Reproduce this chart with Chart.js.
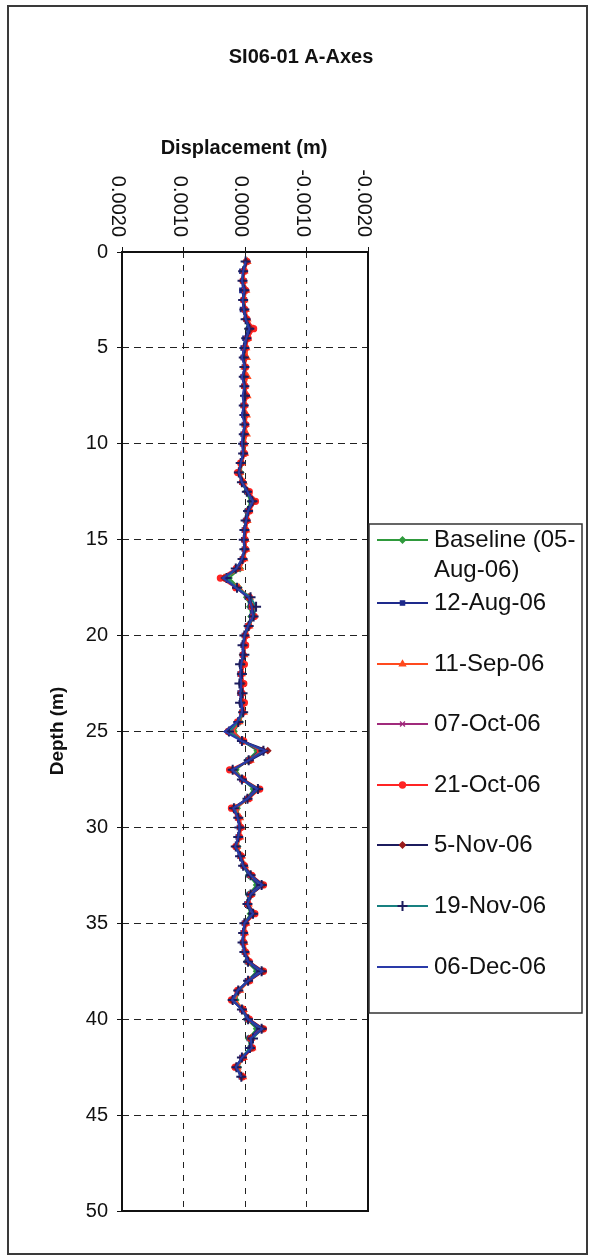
<!DOCTYPE html>
<html><head><meta charset="utf-8">
<script src="https://cdn.jsdelivr.net/npm/chart.js@4.4.1/dist/chart.umd.min.js"></script>
<style>html,body{margin:0;padding:0;background:#fff}canvas{display:block}</style>
</head><body>
<canvas id="c" width="595" height="1258" style="width:595px;height:1258px"></canvas>
<script>
const chartTitle = 'SI06-01 A-Axes';
const xTitle = 'Displacement (m)';
const yTitle = 'Depth (m)';
const xTickValues = [0.002, 0.001, 0, -0.001, -0.002];
const xTickLabels = ['0.0020', '0.0010', '0.0000', '-0.0010', '-0.0020'];
const yTickStep = 5;
const seriesLabels = [['Baseline (05-', 'Aug-06)'], ['12-Aug-06'], ['11-Sep-06'], ['07-Oct-06'], ['21-Oct-06'], ['5-Nov-06'], ['19-Nov-06'], ['06-Dec-06']];

// depth of each reading (m)
const depth = [0.5,1,1.5,2,2.5,3,3.5,4,4.5,5,5.5,6,6.5,7,7.5,8,8.5,9,9.5,10,
  10.5,11,11.5,12,12.5,13,13.5,14,14.5,15,15.5,16,16.5,17,17.5,18,18.5,19,19.5,20,
  20.5,21,21.5,22,22.5,23,23.5,24,24.5,25,25.5,26,26.5,27,27.5,28,28.5,29,29.5,30,
  30.5,31,31.5,32,32.5,33,33.5,34,34.5,35,35.5,36,36.5,37,37.5,38,38.5,39,39.5,40,
  40.5,41,41.5,42,42.5,43];

// displacement readings in mm (converted to m for the axis)
const aug05 = [-0.01,0.03,0.03,0.01,0.02,0.02,-0.01,-0.05,-0.02,0.01,
  0.02,0.01,0.03,0.01,0.00,0.02,0.02,0.01,0.02,0.03,
  0.03,0.05,0.07,0.04,-0.02,-0.09,-0.03,-0.01,0.01,0.01,
  0.01,0.03,0.08,0.26,0.10,-0.03,-0.08,-0.10,-0.04,0.01,
  0.02,0.04,0.05,0.06,0.05,0.06,0.05,0.04,0.08,0.18,
  0.04,-0.20,-0.04,0.15,0.04,-0.14,-0.03,0.13,0.09,0.07,
  0.09,0.12,0.07,0.03,-0.06,-0.19,-0.06,-0.03,-0.09,0.01,
  0.02,0.03,0.01,-0.03,-0.19,-0.04,0.09,0.15,0.04,-0.03,
  -0.19,-0.06,-0.08,0.04,0.11,0.05];
const aug12 = [-0.03,0.05,0.02,0.05,0.01,0.04,-0.02,-0.06,0.00,0.03,
  0.03,0.01,0.03,0.02,0.00,0.03,0.02,0.01,0.03,0.04,
  0.03,0.07,0.10,0.05,-0.03,-0.11,-0.04,-0.01,0.01,0.02,
  0.01,0.04,0.13,0.35,0.14,-0.04,-0.09,-0.11,-0.04,0.01,
  0.03,0.04,0.06,0.08,0.06,0.08,0.06,0.05,0.12,0.27,
  0.05,-0.24,-0.05,0.19,0.05,-0.17,-0.03,0.18,0.12,0.09,
  0.11,0.15,0.08,0.03,-0.07,-0.22,-0.07,-0.03,-0.11,0.01,
  0.03,0.04,0.01,-0.04,-0.22,-0.04,0.11,0.20,0.05,-0.04,
  -0.22,-0.07,-0.09,0.05,0.14,0.06];
const sep11 = [-0.04,0.01,0.02,-0.02,0.01,-0.01,-0.04,-0.13,-0.05,-0.02,
  -0.03,0.01,-0.04,0.00,-0.04,0.01,-0.03,-0.01,-0.03,0.01,
  0.00,0.05,0.08,0.02,-0.06,-0.15,-0.07,-0.04,-0.02,-0.01,
  -0.02,0.01,0.08,0.34,0.10,-0.08,-0.12,-0.14,-0.07,-0.02,
  0.00,0.01,0.03,0.05,0.03,0.05,0.03,0.02,0.09,0.20,
  0.02,-0.29,-0.09,0.20,0.02,-0.21,-0.06,0.15,0.08,0.06,
  0.08,0.13,0.05,0.00,-0.10,-0.27,-0.10,-0.06,-0.15,-0.02,
  0.00,0.01,-0.02,-0.07,-0.27,-0.07,0.08,0.17,0.02,-0.07,
  -0.27,-0.10,-0.12,0.02,0.12,0.03];
const oct07 = [-0.02,0.02,0.04,0.00,0.03,0.00,-0.02,-0.09,-0.03,0.00,
  0.01,0.00,0.02,0.00,-0.01,0.01,0.01,-0.01,0.01,0.03,
  0.02,0.06,0.10,0.04,-0.05,-0.13,-0.05,-0.02,0.00,0.00,
  0.00,0.03,0.11,0.33,0.13,-0.06,-0.11,-0.13,-0.05,0.00,
  0.02,0.03,0.05,0.07,0.05,0.07,0.05,0.04,0.11,0.23,
  0.03,-0.28,-0.07,0.19,0.04,-0.19,-0.05,0.17,0.10,0.08,
  0.10,0.14,0.07,0.02,-0.09,-0.26,-0.09,-0.05,-0.13,0.00,
  0.02,0.03,0.00,-0.06,-0.26,-0.06,0.10,0.19,0.04,-0.06,
  -0.26,-0.09,-0.11,0.04,0.14,0.05];
const oct21 = [-0.03,0.01,0.03,-0.01,0.02,0.00,-0.03,-0.14,-0.05,-0.01,
  0.01,-0.01,0.01,0.00,-0.02,0.01,0.00,-0.01,0.01,0.02,
  0.01,0.07,0.12,0.04,-0.07,-0.17,-0.07,-0.03,-0.01,0.00,
  -0.01,0.03,0.14,0.40,0.15,-0.07,-0.12,-0.15,-0.06,-0.01,
  -0.01,0.03,0.01,0.06,0.02,0.05,0.01,0.04,0.12,0.27,
  0.02,-0.25,-0.08,0.25,0.03,-0.24,-0.06,0.22,0.11,0.07,
  0.09,0.15,0.06,0.01,-0.11,-0.30,-0.10,-0.05,-0.16,-0.01,
  0.01,0.02,-0.01,-0.07,-0.30,-0.07,0.12,0.22,0.03,-0.07,
  -0.30,-0.10,-0.12,0.03,0.16,0.04];
const nov05 = [-0.02,0.02,0.04,0.00,0.03,0.01,-0.02,-0.09,-0.03,0.00,
  0.02,0.00,0.02,0.01,-0.01,0.02,0.01,0.00,0.02,0.03,
  0.02,0.06,0.09,0.04,-0.05,-0.14,-0.06,-0.02,0.00,0.01,
  0.00,0.04,0.12,0.34,0.13,-0.06,-0.12,-0.14,-0.06,0.00,
  0.02,0.03,0.05,0.07,0.05,0.07,0.05,0.04,0.11,0.28,
  0.04,-0.37,-0.08,0.21,0.04,-0.22,-0.05,0.19,0.11,0.08,
  0.10,0.15,0.07,0.02,-0.10,-0.29,-0.10,-0.05,-0.14,0.00,
  0.02,0.03,0.00,-0.06,-0.29,-0.06,0.11,0.21,0.04,-0.06,
  -0.29,-0.09,-0.11,0.04,0.15,0.05];
const nov19 = [-0.01,0.03,0.04,0.01,0.03,0.01,-0.01,-0.07,-0.02,0.01,
  0.02,0.01,0.02,0.01,0.00,0.02,0.01,0.01,0.02,0.03,
  0.03,0.07,0.10,0.05,-0.03,-0.12,-0.05,-0.01,0.01,0.02,
  0.01,0.04,0.15,0.30,0.13,-0.09,-0.18,-0.14,-0.06,0.01,
  0.04,0.01,0.08,0.05,0.09,0.04,0.08,0.03,0.11,0.26,
  0.05,-0.30,-0.06,0.20,0.05,-0.21,-0.04,0.18,0.11,0.09,
  0.11,0.15,0.08,0.03,-0.09,-0.27,-0.09,-0.04,-0.13,0.01,
  0.03,0.04,0.01,-0.05,-0.27,-0.05,0.11,0.20,0.05,-0.05,
  -0.27,-0.13,-0.08,0.05,0.14,0.06];
const dec06 = [-0.01,0.03,0.05,0.01,0.04,0.02,-0.01,-0.07,-0.02,0.01,
  0.05,0.00,0.05,0.01,0.04,0.02,0.05,0.00,0.04,0.05,
  0.03,0.07,0.10,0.05,-0.04,-0.13,-0.05,-0.02,0.01,0.02,
  0.01,0.05,0.14,0.36,0.15,-0.06,-0.11,-0.13,-0.05,0.01,
  0.03,0.04,0.06,0.08,0.06,0.08,0.06,0.05,0.13,0.33,
  0.05,-0.33,-0.06,0.21,0.05,-0.20,-0.04,0.19,0.12,0.09,
  0.11,0.16,0.08,0.03,-0.09,-0.28,-0.09,-0.04,-0.13,0.01,
  0.03,0.04,0.01,-0.05,-0.28,-0.05,0.12,0.21,0.05,-0.05,
  -0.28,-0.09,-0.11,0.05,0.15,0.06];

const seriesValues = [aug05, aug12, sep11, oct07, oct21, nov05, nov19, dec06];

const FONT = '"Liberation Sans", Arial, sans-serif';
const styles = [
  {c:'#2f9a3c', pc:'#2f9a3c', ps:'rectRot', pr:3},
  {c:'#1e2a8c', pc:'#1e2a8c', ps:'rect', pr:3},
  {c:'#ff4a1e', pc:'#ff4a1e', ps:'triangle', pr:3.5},
  {c:'#a02a7c', pc:'#a02a7c', ps:'crossRot', pr:3.5},
  {c:'#ff2424', pc:'#ff2424', ps:'circle', pr:3},
  {c:'#1c1c5e', pc:'#9a1c1c', ps:'rectRot', pr:3},
  {c:'#188080', pc:'#1c1c5e', ps:'cross', pr:5},
  {c:'#2a3aa8', pc:'#2a3aa8', ps:'circle', pr:0}
];

const datasets = seriesValues.map((vals, i) => ({
  label: seriesLabels[i].join(''),
  data: depth.map((d, k) => ({x: vals[k] / 1000, y: d})),
  borderColor: styles[i].c,
  backgroundColor: styles[i].pc,
  pointBorderColor: styles[i].pc,
  pointBackgroundColor: styles[i].pc,
  pointStyle: styles[i].ps,
  pointRadius: styles[i].pr,
  pointBorderWidth: styles[i].ps === 'cross' ? 2 : 1.3,
  borderWidth: 2,
  showLine: true,
  tension: 0,
  order: 7 - i
}));

const decor = {
  id: 'decor',
  beforeDraw(chart) {
    const ctx = chart.ctx;
    ctx.save();
    ctx.fillStyle = '#fff';
    ctx.fillRect(0, 0, chart.width, chart.height);
    ctx.strokeStyle = '#3a3a3a';
    ctx.lineWidth = 2;
    ctx.strokeRect(8, 6, 579, 1248);
    ctx.restore();
  },
  afterDraw(chart) {
    const ctx = chart.ctx, a = chart.chartArea, xs = chart.scales.x;
    ctx.save();
    ctx.setLineDash([]);
    ctx.strokeStyle = '#111';
    ctx.lineWidth = 2;
    ctx.strokeRect(a.left, a.top, a.right - a.left, a.bottom - a.top);

    ctx.fillStyle = '#111';
    ctx.font = 'bold 20px ' + FONT;
    ctx.textAlign = 'center';
    ctx.textBaseline = 'middle';
    ctx.fillText(chartTitle, 301, 57);
    ctx.fillText(xTitle, 244, 148);
    ctx.save();
    ctx.translate(58, 731);
    ctx.rotate(-Math.PI / 2);
    ctx.font = 'bold 19px ' + FONT;
    ctx.fillText(yTitle, 0, 0);
    ctx.restore();

    ctx.font = '20px ' + FONT;
    xTickValues.forEach((v, i) => {
      const px = xs.getPixelForValue(v);
      ctx.save();
      ctx.translate(px - 4, a.top - 15);
      ctx.rotate(Math.PI / 2);
      ctx.textAlign = 'right';
      ctx.textBaseline = 'middle';
      ctx.fillText(xTickLabels[i], 0, 0);
      ctx.restore();
    });

    // legend
    const L = {x0: 369, y0: 524, x1: 582, y1: 1013};
    ctx.fillStyle = '#fff';
    ctx.fillRect(L.x0, L.y0, L.x1 - L.x0, L.y1 - L.y0);
    ctx.strokeStyle = '#333';
    ctx.lineWidth = 1.5;
    ctx.strokeRect(L.x0, L.y0, L.x1 - L.x0, L.y1 - L.y0);
    const rows = [540, 603, 664, 724, 785, 845, 906, 967];
    chart.data.datasets.forEach((ds, i) => {
      const y = rows[i];
      ctx.strokeStyle = ds.borderColor;
      ctx.lineWidth = ds.borderWidth;
      ctx.beginPath();
      ctx.moveTo(377, y);
      ctx.lineTo(428, y);
      ctx.stroke();
      if (ds.pointRadius > 0 && Chart.helpers && Chart.helpers.drawPoint) {
        ctx.fillStyle = ds.pointBackgroundColor;
        ctx.strokeStyle = ds.pointBorderColor;
        ctx.lineWidth = ds.pointBorderWidth;
        Chart.helpers.drawPoint(ctx, {pointStyle: ds.pointStyle, radius: ds.pointRadius, borderWidth: ds.pointBorderWidth, rotation: 0}, 402.5, y);
      }
      ctx.fillStyle = '#111';
      ctx.font = '24px ' + FONT;
      ctx.textAlign = 'left';
      ctx.textBaseline = 'middle';
      seriesLabels[i].forEach((t, j) => ctx.fillText(t, 434, y + j * 30));
    });
    ctx.restore();
  }
};

new Chart(document.getElementById('c'), {
  type: 'scatter',
  data: {datasets},
  options: {
    responsive: false,
    animation: false,
    devicePixelRatio: 1,
    layout: {padding: {left: 0, top: 0, right: 227, bottom: 47}},
    plugins: {legend: {display: false}, tooltip: {enabled: false}, title: {display: false}},
    elements: {line: {tension: 0}},
    scales: {
      x: {
        type: 'linear', position: 'top', min: -0.002, max: 0.002, reverse: true,
        afterBuildTicks: s => { s.ticks = xTickValues.map(v => ({value: v})); },
        afterFit: s => { s.height = 252; },
        ticks: {display: false},
        grid: {color: '#222', lineWidth: 1, tickLength: 5, tickColor: '#111', tickBorderDash: [], drawTicks: true},
        border: {display: false, dash: [6, 7]}
      },
      y: {
        type: 'linear', position: 'left', min: 0, max: 50, reverse: true,
        ticks: {stepSize: yTickStep, font: {family: FONT, size: 20}, color: '#111', padding: 9},
        afterFit: s => { s.width = 122; },
        grid: {color: '#222', lineWidth: 1, tickLength: 5, tickColor: '#111', tickBorderDash: []},
        border: {display: false, dash: [7, 5]}
      }
    }
  },
  plugins: [decor]
});
</script>
</body></html>
